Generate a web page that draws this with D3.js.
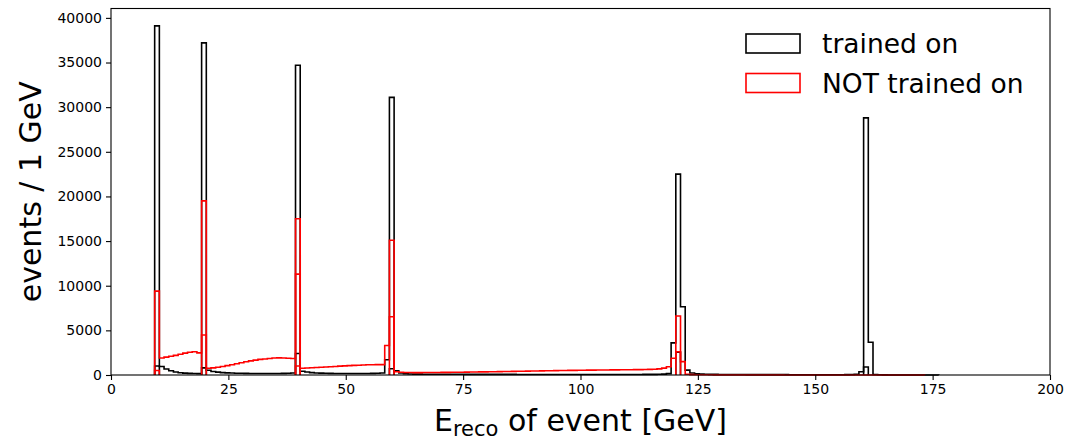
<!DOCTYPE html>
<html>
<head>
<meta charset="utf-8">
<script src="https://cdn.jsdelivr.net/npm/d3@7"></script>
<style>
  html, body { margin: 0; padding: 0; background: #fff; }
  svg { display: block; font-family: "DejaVu Sans", sans-serif; }
</style>
</head>
<body>
<svg id="chart" width="1073" height="441"></svg>
<script>
// ---------------- data ----------------
const binWidth = 1;            // GeV
const firstEdge = 9.3;         // lower edge of first bin (GeV)
const xTicks = [0, 25, 50, 75, 100, 125, 150, 175, 200];
const yTicks = [0, 5000, 10000, 15000, 20000, 25000, 30000, 35000, 40000];
const seriesNames = ["trained on", "NOT trained on"];

// "trained on" counts per 1 GeV bin, starting at firstEdge
const trainedCounts = [
  39100, 960, 680, 470, 340, 260, 210, 180, 160, 150,          // bins 9 - 18
  37200, 540, 400, 320, 270, 240, 220, 200, 190, 180,          // 19 - 28
  170, 170, 160, 160, 160, 170, 170, 180, 190, 220,            // 29 - 38
  34700, 420, 330, 270, 230, 210, 190, 180, 170, 170,          // 39 - 48
  160, 160, 160, 160, 170, 170, 180, 190, 220, 1700,           // 49 - 58
  31100, 480, 220, 140, 110, 100,                              // 59 - 64
  95, 92, 90, 88, 86, 84, 82, 80, 78, 76,                      // 65 - 74
  75, 74, 73, 72, 71, 70, 69, 68, 67, 66,
  65, 64, 63, 62, 61, 60, 60, 59, 58, 57,
  56, 56, 55, 55, 54, 54, 53, 53, 52, 52,
  52, 52, 53, 54, 56, 58, 60, 63, 66, 70,
  75, 85, 100,                                                 // 115 - 117
  150, 3600, 22500, 7650, 550, 220, 130, 100,                  // 118 - 125
  85, 75, 68, 62, 58, 55, 52, 50, 48, 46,                      // 126 - 135
  44, 43, 42, 41, 40, 39, 38, 37, 36, 35,
  35, 34, 34, 33, 33, 32, 32, 32, 33, 35,
  40, 50, 80,                                                  // 156 - 158
  370, 28800, 3660, 60, 20, 10,                                // 159 - 164
  8, 6, 5, 4, 3, 3, 2, 2, 2, 1, 1                              // 165 - 175
];

// "NOT trained on" counts per 1 GeV bin, starting at firstEdge
const notTrainedCounts = [
  9400, 1900, 2000, 2100, 2200, 2330, 2450, 2550, 2600, 2480,  // bins 9 - 18
  19500, 750, 800, 870, 950, 1050, 1150, 1260, 1370, 1480,     // 19 - 28
  1580, 1670, 1750, 1800, 1850, 1900, 1920, 1900, 1880, 1850,  // 29 - 38
  17500, 750, 780, 810, 840, 870, 900, 930, 960, 990,          // 39 - 48
  1020, 1050, 1080, 1100, 1120, 1140, 1150, 1160, 1160, 3300,  // 49 - 58
  15100, 370,                                                  // 59 - 60
  300, 285, 275, 270, 270, 272, 275, 280, 285, 290,            // 61 - 70
  296, 302, 309, 316, 323, 330, 338, 346, 354, 362,
  370, 379, 388, 397, 406, 415, 424, 433, 442, 451,
  460, 469, 478, 487, 496, 505, 514, 522, 530, 537,
  544, 550, 556, 561, 566, 571, 576, 581, 586, 592,
  598, 605, 615, 630, 650, 690, 770,                           // 111 - 117
  930, 1870, 6600, 1500, 80,                                   // 118 - 122
  40, 30, 25, 22, 20, 18, 17, 16, 15, 14,                      // 123 - 132
  13, 12, 12, 11, 11, 10, 10, 9, 9, 9,
  8, 8, 8, 7, 7, 7, 6, 6, 6, 6,
  5, 5, 5, 5, 4, 4, 4, 4, 4, 3,
  3, 3, 3, 3, 2, 2, 2, 2, 2, 1                                 // 163 - 172
];

// overlapping single-bin contributions (other samples of the same group)
const trainedInnerEdges  = [9.3, 19.3, 39.3, 59.3, 120.3, 160.3];
const trainedInnerCounts = [1000, 800, 2400, 700, 2540, 900];
const notTrainedInnerEdges  = [9.3, 19.3, 39.3, 39.3, 59.3, 120.3];
const notTrainedInnerCounts = [500, 4480, 11300, 1000, 6530, 2600];

const colors = ["#000000", "#ff0000"];

// ---------------- layout ----------------
const svg = d3.select("#chart");
const L = 111, R = 1050, T = 8.5, B = 375;
const x = d3.scaleLinear().domain([0, 200]).range([L, R]);
const y = d3.scaleLinear().domain([0, 41050]).range([B, T]);

svg.append("defs").append("clipPath").attr("id", "clip")
  .append("rect").attr("x", L).attr("y", T - 1).attr("width", R - L).attr("height", B - T + 4);

// step outline like matplotlib histtype='step'
function stepPoints(start, counts) {
  const pts = [[start, 0]];
  counts.forEach((c, i) => {
    const e0 = start + i * binWidth, e1 = e0 + binWidth;
    pts.push([e0, c]); pts.push([e1, c]);
  });
  pts.push([start + counts.length * binWidth, 0]);
  return pts;
}
const line = d3.line().x(d => x(d[0])).y(d => y(d[1]));

const plot = svg.append("g").attr("clip-path", "url(#clip)");

function drawGroup(mainCounts, innerEdges, innerCounts, color) {
  plot.append("path")
    .attr("d", line(stepPoints(firstEdge, mainCounts)))
    .attr("fill", "none").attr("stroke", color).attr("stroke-width", 1.6)
    .attr("stroke-linejoin", "miter");
  innerEdges.forEach((e, i) => {
    plot.append("path")
      .attr("d", line(stepPoints(e, [innerCounts[i]])))
      .attr("fill", "none").attr("stroke", color).attr("stroke-width", 1.6);
  });
}
drawGroup(trainedCounts, trainedInnerEdges, trainedInnerCounts, colors[0]);
drawGroup(notTrainedCounts, notTrainedInnerEdges, notTrainedInnerCounts, colors[1]);

// ---------------- axes ----------------
const xAxis = svg.append("g").attr("transform", `translate(0,${B})`)
  .call(d3.axisBottom(x).tickValues(xTicks).tickSize(5).tickPadding(4).tickFormat(d3.format("d")));
const yAxis = svg.append("g").attr("transform", `translate(${L},0)`)
  .call(d3.axisLeft(y).tickValues(yTicks).tickSize(5).tickPadding(4).tickFormat(d3.format("d")));
[xAxis, yAxis].forEach(g => {
  g.select(".domain").remove();
  g.selectAll(".tick line").attr("stroke", "#000").attr("stroke-width", 1.1);
  g.selectAll(".tick text").attr("fill", "#000")
    .style("font-family", "DejaVu Sans").style("font-size", "14px");
});

// frame
svg.append("rect").attr("x", L).attr("y", T).attr("width", R - L).attr("height", B - T)
  .attr("fill", "none").attr("stroke", "#000").attr("stroke-width", 1.1);

// axis labels
const xl = svg.append("text").attr("x", (L + R) / 2).attr("y", 431)
  .attr("text-anchor", "middle").style("font-size", "30px").attr("fill", "#000");
xl.append("tspan").text("E");
xl.append("tspan").attr("dy", 5).style("font-size", "21px").text("reco");
xl.append("tspan").attr("dy", -5).text(" of event [GeV]");

svg.append("text")
  .attr("transform", `translate(41,${(T + B) / 2}) rotate(-90)`)
  .attr("text-anchor", "middle").style("font-size", "30px").attr("fill", "#000")
  .text("events / 1 GeV");

// legend
const lg = svg.append("g");
seriesNames.forEach((name, i) => {
  const yy = 34 + i * 39.5;
  lg.append("rect").attr("x", 746).attr("y", yy).attr("width", 54).attr("height", 19)
    .attr("fill", "none").attr("stroke", colors[i]).attr("stroke-width", 1.6);
  lg.append("text").attr("x", 822).attr("y", yy + 19).style("font-size", "26.5px")
    .attr("fill", "#000").text(name);
});
</script>
</body>
</html>
